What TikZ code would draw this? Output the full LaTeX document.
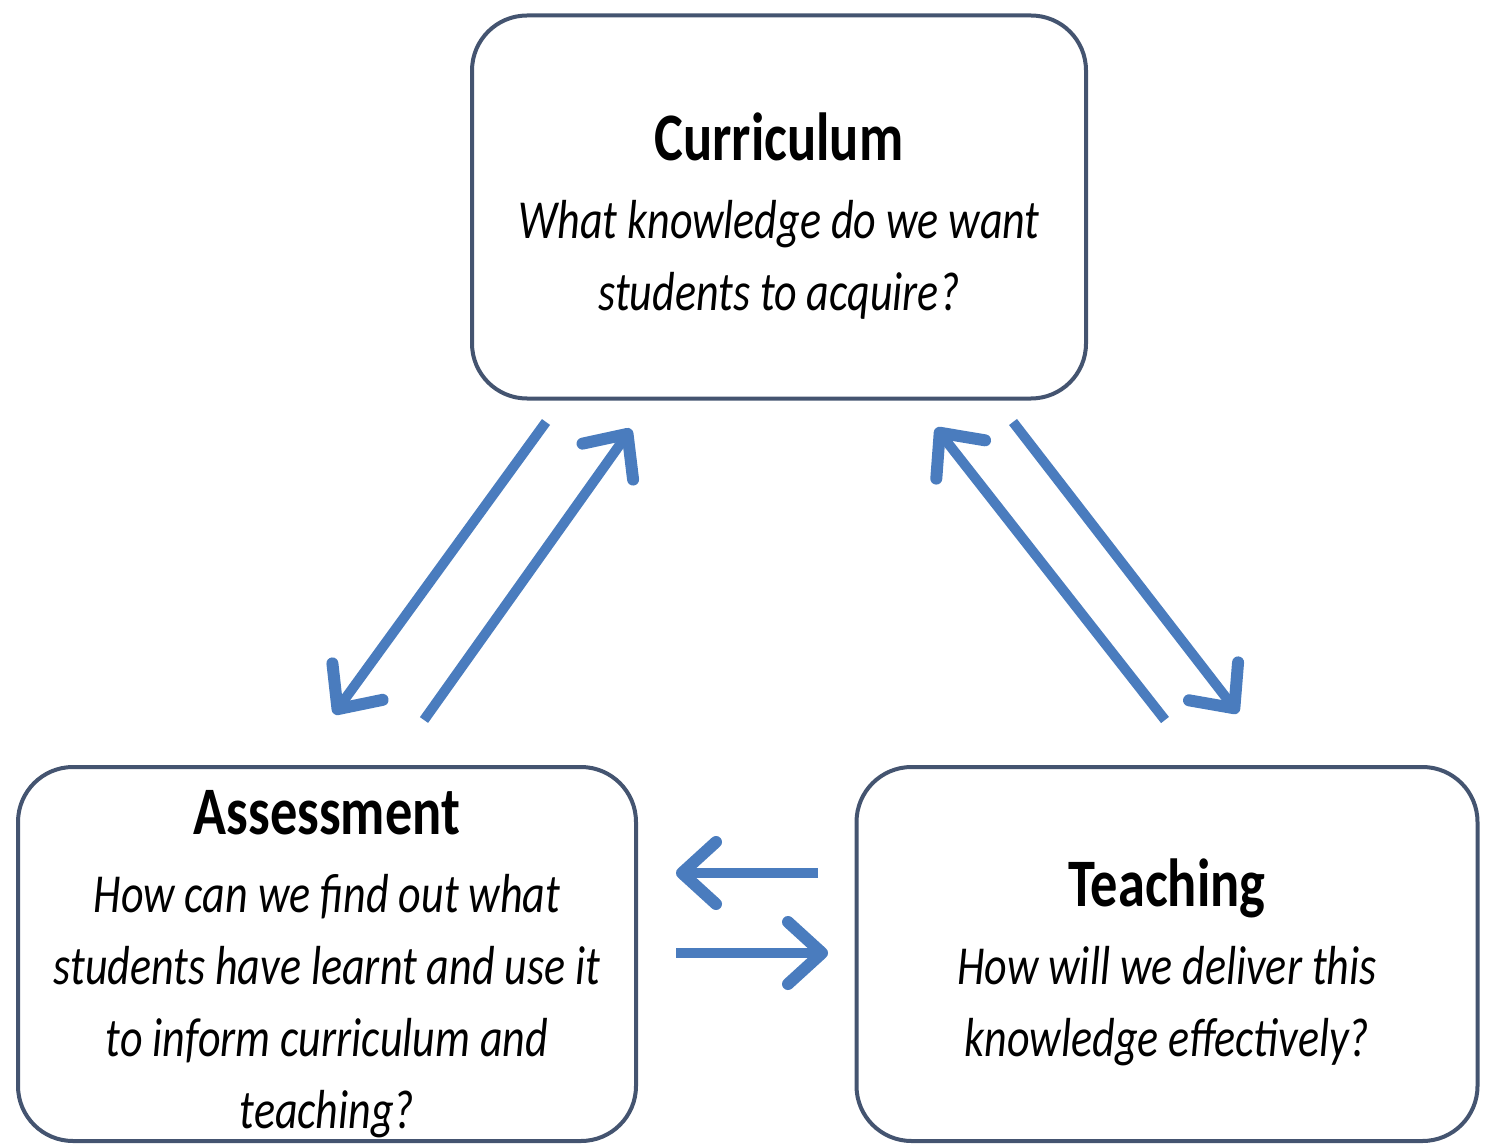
\documentclass[tikz,border=0pt]{standalone}
\usepackage{fontspec}
\setmainfont{Carlito}[FakeStretch=0.8]
\usetikzlibrary{arrows.meta}
\definecolor{boxline}{RGB}{68,84,112}
\definecolor{arrowblue}{RGB}{74,124,190}
\tikzset{
  topic/.style={draw=boxline, line width=4pt, rounded corners=55pt, fill=white,
    align=center, inner sep=0pt, font=\fontsize{55}{72}\selectfont},
  flow/.style={draw=arrowblue, line width=10pt,
    -{Straight Barb[length=34pt,width=62pt,line width=12pt,round]}},
}
\newcommand{\ttl}[1]{{\fontsize{68}{72}\selectfont\bfseries\rule{0pt}{65pt}#1}}
\begin{document}
\begin{tikzpicture}[x=1pt,y=-1pt]
\useasboundingbox (0,0) rectangle (1490,1147);
\node[topic, minimum width=614pt, minimum height=383pt] (cur) at (779,207)
  {\ttl{Curriculum}\\[6pt] \itshape What knowledge do we want\\ \itshape students to acquire?};
\node[topic, minimum width=618pt, minimum height=374pt] (ass) at (327,954)
  {\ttl{Assessment}\\[6pt] \itshape How can we find out what\\ \itshape students have learnt and use it\\ \itshape to inform curriculum and\\ \itshape teaching?};
\node[topic, minimum width=621pt, minimum height=374pt] (tea) at (1167,954)
  {\ttl{Teaching}\\[6pt] \itshape How will we deliver this\\ \itshape knowledge effectively?};
\coordinate (c1) at (546,422); \coordinate (a1) at (334,714);
\coordinate (a2) at (424,720); \coordinate (c2) at (631,429);
\coordinate (t1) at (1165,720); \coordinate (c3) at (936,428);
\coordinate (c4) at (1013,422); \coordinate (t2) at (1238,713);
\coordinate (tl) at (818,873); \coordinate (al) at (676,873);
\coordinate (ar) at (676,953); \coordinate (tr) at (828,953);
\draw[flow] (c1) -- (a1);
\draw[flow] (a2) -- (c2);
\draw[flow] (t1) -- (c3);
\draw[flow] (c4) -- (t2);
\draw[flow] (tl) -- (al);
\draw[flow] (ar) -- (tr);
\end{tikzpicture}
\end{document}
